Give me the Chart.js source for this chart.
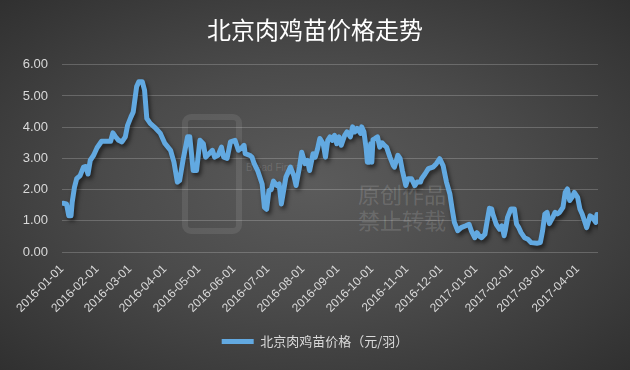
<!DOCTYPE html>
<html>
<head>
<meta charset="utf-8">
<script src="https://cdn.jsdelivr.net/npm/chart.js@4/dist/chart.umd.min.js"></script>
<style>
  html, body { margin: 0; padding: 0; }
  body {
    width: 630px; height: 370px; overflow: hidden;
    background: radial-gradient(ellipse at 50% 50%, #5b5b5b 0%, #4b4b4b 45%, #303030 100%);
  }
  #wrap { position: relative; width: 630px; height: 370px; }
  #wrap canvas { position: absolute; left: 0; top: 0; }
  .mark { position: absolute; color: rgba(255,255,255,0.14); font-family: "Noto Sans CJK SC", sans-serif; white-space: nowrap; }
  .logo { position: absolute; left: 182px; top: 114px; width: 48px; height: 108px;
          border: 6px solid rgba(255,255,255,0.09); border-radius: 9px; }
</style>
</head>
<body>
<div id="wrap">
  <div class="logo"></div>
  <div class="mark" style="left:246px; top:162px; font-size:10px; font-family:'Liberation Sans',sans-serif;">Bread Finance</div>
  <div class="mark" style="left:358px; top:180px; font-size:22px; line-height:26px;">原创作品<br>禁止转载</div>
  <canvas id="priceChart" width="630" height="370"></canvas>
</div>
<script>
// Beijing broiler chick price (yuan per chick)
const axisStart = '2016-01-01';
const axisEnd = '2017-04-19';

const tickDates = [
  '2016-01-01', '2016-02-01', '2016-03-01', '2016-04-01', '2016-05-01', '2016-06-01',
  '2016-07-01', '2016-08-01', '2016-09-01', '2016-10-01', '2016-11-01', '2016-12-01',
  '2017-01-01', '2017-02-01', '2017-03-01', '2017-04-01'
];

const priceDates = [
  '2016-01-02', '2016-01-05', '2016-01-07', '2016-01-09', '2016-01-10', '2016-01-12', '2016-01-14',
  '2016-01-17', '2016-01-20', '2016-01-22', '2016-01-24', '2016-01-26', '2016-01-29', '2016-02-01',
  '2016-02-05', '2016-02-08', '2016-02-13', '2016-02-15', '2016-02-17', '2016-02-20', '2016-02-23',
  '2016-02-26', '2016-02-28', '2016-03-02', '2016-03-04', '2016-03-07', '2016-03-09', '2016-03-12',
  '2016-03-14', '2016-03-16', '2016-03-19', '2016-03-24', '2016-03-28', '2016-04-01', '2016-04-06',
  '2016-04-09', '2016-04-12', '2016-04-14', '2016-04-17', '2016-04-21', '2016-04-23', '2016-04-26',
  '2016-04-29', '2016-05-02', '2016-05-05', '2016-05-07', '2016-05-10', '2016-05-13', '2016-05-15',
  '2016-05-18', '2016-05-21', '2016-05-23', '2016-05-26', '2016-05-29', '2016-06-02', '2016-06-05',
  '2016-06-08', '2016-06-10', '2016-06-11', '2016-06-15', '2016-06-17', '2016-06-19', '2016-06-22',
  '2016-06-26', '2016-06-28', '2016-06-30', '2016-07-02', '2016-07-04', '2016-07-06', '2016-07-09',
  '2016-07-11', '2016-07-13', '2016-07-15', '2016-07-17', '2016-07-19', '2016-07-21', '2016-07-24',
  '2016-07-26', '2016-07-29', '2016-07-31', '2016-08-03', '2016-08-05', '2016-08-07', '2016-08-10',
  '2016-08-12', '2016-08-14', '2016-08-16', '2016-08-19', '2016-08-21', '2016-08-23', '2016-08-25',
  '2016-08-27', '2016-08-29', '2016-08-31', '2016-09-02', '2016-09-04', '2016-09-07', '2016-09-09',
  '2016-09-12', '2016-09-14', '2016-09-16', '2016-09-18', '2016-09-21', '2016-09-22', '2016-09-24',
  '2016-09-26', '2016-09-27', '2016-09-29', '2016-09-30', '2016-10-01', '2016-10-02', '2016-10-04',
  '2016-10-06', '2016-10-08', '2016-10-10', '2016-10-12', '2016-10-14', '2016-10-17', '2016-10-20',
  '2016-10-21', '2016-10-24', '2016-10-26', '2016-10-28', '2016-10-31', '2016-11-02', '2016-11-05',
  '2016-11-08', '2016-11-10', '2016-11-13', '2016-11-14', '2016-11-17', '2016-11-20', '2016-11-24',
  '2016-11-27', '2016-11-30', '2016-12-03', '2016-12-06', '2016-12-09', '2016-12-11', '2016-12-13',
  '2016-12-16', '2016-12-19', '2016-12-23', '2016-12-26', '2016-12-28', '2016-12-31', '2017-01-02',
  '2017-01-04', '2017-01-06', '2017-01-09', '2017-01-11', '2017-01-13', '2017-01-15', '2017-01-16',
  '2017-01-19', '2017-01-22', '2017-01-24', '2017-01-26', '2017-01-27', '2017-01-29', '2017-02-01',
  '2017-02-04', '2017-02-06', '2017-02-08', '2017-02-10', '2017-02-13', '2017-02-16', '2017-02-19',
  '2017-02-24', '2017-02-27', '2017-03-01', '2017-03-03', '2017-03-05', '2017-03-07', '2017-03-10',
  '2017-03-12', '2017-03-14', '2017-03-16', '2017-03-19', '2017-03-21', '2017-03-23', '2017-03-25',
  '2017-03-27', '2017-03-29', '2017-04-01', '2017-04-03', '2017-04-05', '2017-04-07', '2017-04-09',
  '2017-04-12', '2017-04-14', '2017-04-17', '2017-04-18'
];

const priceValues = [
  1.56, 1.54, 1.16, 1.16, 1.59, 2.07, 2.35,
  2.45, 2.72, 2.74, 2.50, 2.94, 3.10, 3.34,
  3.55, 3.55, 3.55, 3.82, 3.71, 3.58, 3.53,
  3.69, 4.06, 4.33, 4.49, 5.30, 5.46, 5.46,
  5.19, 4.28, 4.12, 3.96, 3.80, 3.48, 3.26,
  2.88, 2.24, 2.29, 2.94, 3.69, 3.69, 2.61,
  2.61, 3.58, 3.47, 3.04, 3.15, 3.26, 3.04,
  3.10, 3.36, 3.04, 3.00, 3.53, 3.58, 3.26,
  3.34, 3.42, 3.15, 3.10, 3.04, 2.83, 2.61,
  2.18, 1.43, 1.37, 1.97, 2.00, 2.27, 2.13,
  2.18, 1.54, 1.97, 2.40, 2.56, 2.72, 2.45,
  2.13, 2.72, 3.20, 2.83, 2.94, 2.61, 3.15,
  3.04, 3.31, 3.64, 3.47, 3.04, 3.58, 3.69,
  3.58, 3.74, 3.47, 3.69, 3.42, 3.74, 3.85,
  3.69, 4.01, 3.85, 3.96, 3.80, 4.01, 3.85,
  3.31, 2.88, 2.88, 3.47, 2.88, 3.60, 3.64,
  3.69, 3.36, 3.50, 3.42, 3.36, 3.04, 2.77,
  2.72, 3.10, 3.00, 2.61, 2.13, 2.35, 2.35,
  2.13, 2.24, 2.24, 2.35, 2.50, 2.67, 2.72,
  2.83, 2.99, 2.77, 2.24, 1.86, 1.38, 0.95,
  0.68, 0.78, 0.84, 0.89, 0.68, 0.46, 0.62,
  0.51, 0.46, 0.57, 1.00, 1.40, 1.38, 1.22,
  0.89, 0.73, 0.84, 0.52, 0.68, 1.11, 1.38,
  1.38, 0.89, 0.78, 0.62, 0.46, 0.41, 0.30,
  0.28, 0.30, 0.68, 1.22, 1.27, 0.91, 1.11,
  1.27, 1.22, 1.27, 1.43, 1.91, 2.02, 1.65,
  1.75, 1.91, 1.75, 1.38, 1.22, 1.00, 0.78,
  1.16, 1.11, 0.95, 1.20
];

const seriesName = '北京肉鸡苗价格（元/羽）';
const yTicks = [0, 1, 2, 3, 4, 5, 6];

const dayOf = (s) => (Date.parse(s) - Date.parse(axisStart)) / 86400000;
const tickDays = tickDates.map(dayOf);

// soft drop shadow under the line, like the office chart style
const lineShadow = {
  id: 'lineShadow',
  beforeDatasetsDraw(chart) {
    const ctx = chart.ctx;
    ctx.save();
    ctx.shadowColor = 'rgba(0,0,0,0.55)';
    ctx.shadowBlur = 4;
    ctx.shadowOffsetX = 2;
    ctx.shadowOffsetY = 3;
  },
  afterDatasetsDraw(chart) {
    chart.ctx.restore();
  }
};

const ctx = document.getElementById('priceChart').getContext('2d');
new Chart(ctx, {
  type: 'line',
  data: {
    datasets: [{
      label: seriesName,
      data: priceDates.map((d, i) => ({ x: dayOf(d), y: priceValues[i] })),
      borderColor: '#62a9e1',
      backgroundColor: '#62a9e1',
      borderWidth: 5,
      borderJoinStyle: 'round',
      borderCapStyle: 'round',
      tension: 0,
      pointRadius: 0,
      fill: false
    }]
  },
  options: {
    responsive: false,
    animation: false,
    devicePixelRatio: 1,
    layout: { padding: { left: 0, right: 0, top: 0, bottom: 12 } },
    plugins: {
      title: {
        display: true,
        text: '北京肉鸡苗价格走势',
        color: '#ffffff',
        font: { family: '"Noto Sans CJK SC", sans-serif', size: 24, weight: 'normal' },
        padding: { top: 15, bottom: 21 }
      },
      legend: {
        position: 'bottom',
        labels: {
          color: '#d9d9d9',
          font: { family: '"Noto Sans CJK SC", sans-serif', size: 13 },
          usePointStyle: true,
          pointStyle: 'line',
          pointStyleWidth: 32,
          padding: 10
        }
      },
      tooltip: { enabled: false }
    },
    scales: {
      x: {
        type: 'linear',
        min: 0,
        max: dayOf(axisEnd),
        afterBuildTicks(scale) {
          scale.ticks = tickDays.map(v => ({ value: v }));
        },
        afterFit(scale) { scale.height = 73; },
        grid: { display: false, drawTicks: false },
        border: { display: false },
        ticks: {
          autoSkip: false,
          maxRotation: 45,
          minRotation: 45,
          padding: 10,
          color: '#d9d9d9',
          font: { family: '"Liberation Sans", sans-serif', size: 12 },
          callback: (v) => tickDates[tickDays.indexOf(v)] || ''
        }
      },
      y: {
        min: 0,
        max: 6,
        afterBuildTicks(scale) {
          scale.ticks = yTicks.map(v => ({ value: v }));
        },
        afterFit(scale) { scale.width = 62; },
        grid: { color: 'rgba(255,255,255,0.2)', lineWidth: 1, drawTicks: false },
        border: { display: false },
        ticks: {
          padding: 14,
          color: '#d9d9d9',
          font: { family: '"Liberation Sans", sans-serif', size: 13 },
          callback: (v) => v.toFixed(2)
        }
      },
      // empty right-hand margin so title and legend stay centred on the whole canvas
      rightMargin: {
        type: 'linear',
        position: 'right',
        grid: { display: false, drawTicks: false },
        border: { display: false },
        ticks: { display: false },
        afterFit(scale) { scale.width = 32; }
      }
    }
  },
  plugins: [lineShadow]
});
</script>
</body>
</html>
